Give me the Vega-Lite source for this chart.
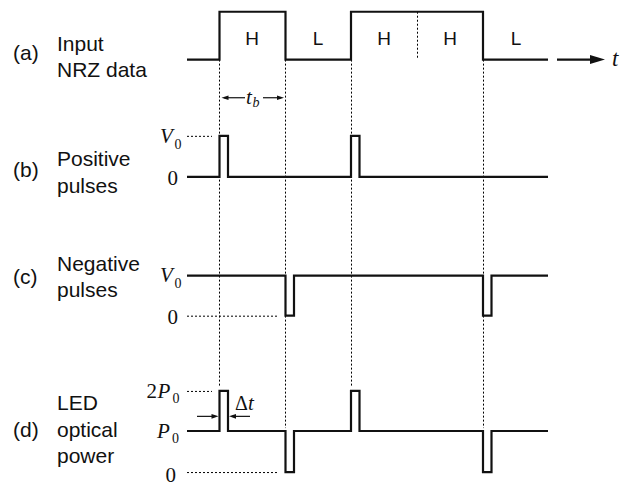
{
  "$schema": "https://vega.github.io/schema/vega-lite/v6.json",
  "width": 631,
  "height": 486,
  "padding": 0,
  "autosize": {"type": "fit", "contains": "padding"},
  "background": "white",
  "config": {"view": {"stroke": null}},
  "datasets": {
    "wave": [
      {"s": "a", "o": 1, "x": 187, "y": 61}, {"s": "a", "o": 2, "x": 219.5, "y": 61}, {"s": "a", "o": 3, "x": 219.5, "y": 12}, {"s": "a", "o": 4, "x": 285.5, "y": 12}, {"s": "a", "o": 5, "x": 285.5, "y": 61}, {"s": "a", "o": 6, "x": 351, "y": 61}, {"s": "a", "o": 7, "x": 351, "y": 12}, {"s": "a", "o": 8, "x": 483, "y": 12}, {"s": "a", "o": 9, "x": 483, "y": 61}, {"s": "a", "o": 10, "x": 548, "y": 61},
      {"s": "b", "o": 1, "x": 187, "y": 181}, {"s": "b", "o": 2, "x": 219.5, "y": 181}, {"s": "b", "o": 3, "x": 219.5, "y": 139}, {"s": "b", "o": 4, "x": 228, "y": 139}, {"s": "b", "o": 5, "x": 228, "y": 181}, {"s": "b", "o": 6, "x": 351, "y": 181}, {"s": "b", "o": 7, "x": 351, "y": 139}, {"s": "b", "o": 8, "x": 359.5, "y": 139}, {"s": "b", "o": 9, "x": 359.5, "y": 181}, {"s": "b", "o": 10, "x": 548, "y": 181},
      {"s": "c", "o": 1, "x": 187, "y": 282}, {"s": "c", "o": 2, "x": 285.5, "y": 282}, {"s": "c", "o": 3, "x": 285.5, "y": 323}, {"s": "c", "o": 4, "x": 294, "y": 323}, {"s": "c", "o": 5, "x": 294, "y": 282}, {"s": "c", "o": 6, "x": 483, "y": 282}, {"s": "c", "o": 7, "x": 483, "y": 323}, {"s": "c", "o": 8, "x": 491.5, "y": 323}, {"s": "c", "o": 9, "x": 491.5, "y": 282}, {"s": "c", "o": 10, "x": 548, "y": 282},
      {"s": "d", "o": 1, "x": 187, "y": 441}, {"s": "d", "o": 2, "x": 219.5, "y": 441}, {"s": "d", "o": 3, "x": 219.5, "y": 400}, {"s": "d", "o": 4, "x": 228, "y": 400}, {"s": "d", "o": 5, "x": 228, "y": 441}, {"s": "d", "o": 6, "x": 285.5, "y": 441}, {"s": "d", "o": 7, "x": 285.5, "y": 483}, {"s": "d", "o": 8, "x": 294, "y": 483}, {"s": "d", "o": 9, "x": 294, "y": 441}, {"s": "d", "o": 10, "x": 351, "y": 441}, {"s": "d", "o": 11, "x": 351, "y": 400}, {"s": "d", "o": 12, "x": 359.5, "y": 400}, {"s": "d", "o": 13, "x": 359.5, "y": 441}, {"s": "d", "o": 14, "x": 483, "y": 441}, {"s": "d", "o": 15, "x": 483, "y": 483}, {"s": "d", "o": 16, "x": 491.5, "y": 483}, {"s": "d", "o": 17, "x": 491.5, "y": 441}, {"s": "d", "o": 18, "x": 548, "y": 441},
      {"s": "t", "o": 1, "x": 557, "y": 61}, {"s": "t", "o": 2, "x": 598, "y": 61}
    ],
    "dashes": [
      {"x": 219.5, "y": 61, "x2": 219.5, "y2": 395},
      {"x": 285.5, "y": 61, "x2": 285.5, "y2": 438},
      {"x": 351.5, "y": 61, "x2": 351.5, "y2": 395},
      {"x": 483.5, "y": 61, "x2": 483.5, "y2": 438},
      {"x": 417.5, "y": 12, "x2": 417.5, "y2": 60},
      {"x": 187, "y": 139.5, "x2": 212, "y2": 139.5},
      {"x": 187, "y": 323.5, "x2": 278, "y2": 323.5},
      {"x": 187, "y": 400.5, "x2": 212, "y2": 400.5},
      {"x": 187, "y": 483.5, "x2": 278, "y2": 483.5}
    ],
    "thin": [
      {"x": 224, "y": 100, "x2": 245, "y2": 100},
      {"x": 263, "y": 100, "x2": 281, "y2": 100},
      {"x": 197, "y": 426, "x2": 215, "y2": 426},
      {"x": 232, "y": 426, "x2": 250, "y2": 426}
    ],
    "headsR": [{"x": 280.5, "y": 100}, {"x": 215, "y": 426}],
    "headsL": [{"x": 225, "y": 100}, {"x": 232.5, "y": 426}],
    "headBig": [{"x": 597.5, "y": 61}],
    "sans": [
      {"x": 13, "y": 61, "t": "(a)"}, {"x": 57, "y": 52, "t": "Input"}, {"x": 57, "y": 79, "t": "NRZ data"},
      {"x": 13, "y": 181, "t": "(b)"}, {"x": 57, "y": 170, "t": "Positive"}, {"x": 57, "y": 197, "t": "pulses"},
      {"x": 13, "y": 291, "t": "(c)"}, {"x": 57, "y": 277, "t": "Negative"}, {"x": 57, "y": 304, "t": "pulses"},
      {"x": 13, "y": 447, "t": "(d)"}, {"x": 57, "y": 420, "t": "LED"}, {"x": 57, "y": 447, "t": "optical"}, {"x": 57, "y": 474, "t": "power"}
    ],
    "bits": [
      {"x": 252, "y": 46, "t": "H"}, {"x": 318, "y": 46, "t": "L"}, {"x": 384, "y": 46, "t": "H"}, {"x": 450, "y": 46, "t": "H"}, {"x": 516, "y": 46, "t": "L"}
    ],
    "serifUp": [
      {"x": 178, "y": 189, "t": "0"}, {"x": 178, "y": 331, "t": "0"}, {"x": 176, "y": 493, "t": "0"}, {"x": 157, "y": 407, "t": "2"}
    ],
    "serifIt": [
      {"x": 160, "y": 146, "t": "V"}, {"x": 160, "y": 289, "t": "V"}, {"x": 157.5, "y": 407, "t": "P"}, {"x": 157, "y": 448, "t": "P"}, {"x": 246, "y": 106.5, "t": "t"}, {"x": 248, "y": 420, "t": "t"}
    ],
    "subs": [
      {"x": 174.5, "y": 152, "t": "0"}, {"x": 174.5, "y": 295, "t": "0"}, {"x": 172.5, "y": 412, "t": "0"}, {"x": 172, "y": 453, "t": "0"}
    ],
    "subIt": [{"x": 252.5, "y": 109.5, "t": "b"}],
    "delta": [{"x": 235, "y": 420, "t": "Δ"}],
    "bigT": [{"x": 612, "y": 68, "t": "t"}]
  },
  "encoding": {
    "x": {"field": "x", "type": "quantitative", "scale": {"domain": [0, 631], "nice": false, "zero": false}, "axis": null},
    "y": {"field": "y", "type": "quantitative", "scale": {"domain": [0, 486], "nice": false, "zero": false, "reverse": true}, "axis": null}
  },
  "layer": [
    {
      "data": {"name": "dashes"},
      "mark": {"type": "rule", "color": "#000000", "strokeWidth": 1, "strokeDash": [2, 2]},
      "encoding": {"x2": {"field": "x2"}, "y2": {"field": "y2"}}
    },
    {
      "data": {"name": "wave"},
      "mark": {"type": "line", "color": "#111111", "strokeWidth": 2.2, "strokeJoin": "miter", "strokeCap": "butt"},
      "encoding": {"detail": {"field": "s"}, "order": {"field": "o", "type": "quantitative"}}
    },
    {
      "data": {"name": "thin"},
      "mark": {"type": "rule", "color": "#111111", "strokeWidth": 1.2},
      "encoding": {"x2": {"field": "x2"}, "y2": {"field": "y2"}}
    },
    {
      "data": {"name": "headsR"},
      "mark": {"type": "point", "filled": true, "color": "#111111", "opacity": 1, "size": 49, "shape": "M-1,-0.65L1,0L-1,0.65Z"}
    },
    {
      "data": {"name": "headsL"},
      "mark": {"type": "point", "filled": true, "color": "#111111", "opacity": 1, "size": 49, "shape": "M1,-0.65L-1,0L1,0.65Z"}
    },
    {
      "data": {"name": "headBig"},
      "mark": {"type": "point", "filled": true, "color": "#111111", "opacity": 1, "size": 225, "shape": "M-1,-0.6L1,0L-1,0.6Z"}
    },
    {
      "data": {"name": "sans"},
      "mark": {"type": "text", "font": "Liberation Sans", "fontSize": 21, "align": "left", "baseline": "alphabetic", "color": "#111111"},
      "encoding": {"text": {"field": "t"}}
    },
    {
      "data": {"name": "bits"},
      "mark": {"type": "text", "font": "Liberation Sans", "fontSize": 19, "align": "center", "baseline": "alphabetic", "color": "#111111"},
      "encoding": {"text": {"field": "t"}}
    },
    {
      "data": {"name": "serifUp"},
      "mark": {"type": "text", "font": "Liberation Serif", "fontSize": 21, "align": "right", "baseline": "alphabetic", "color": "#111111"},
      "encoding": {"text": {"field": "t"}}
    },
    {
      "data": {"name": "serifIt"},
      "mark": {"type": "text", "font": "Liberation Serif", "fontStyle": "italic", "fontSize": 21, "align": "left", "baseline": "alphabetic", "color": "#111111"},
      "encoding": {"text": {"field": "t"}}
    },
    {
      "data": {"name": "subs"},
      "mark": {"type": "text", "font": "Liberation Serif", "fontSize": 14, "align": "left", "baseline": "alphabetic", "color": "#111111"},
      "encoding": {"text": {"field": "t"}}
    },
    {
      "data": {"name": "subIt"},
      "mark": {"type": "text", "font": "Liberation Serif", "fontStyle": "italic", "fontSize": 14, "align": "left", "baseline": "alphabetic", "color": "#111111"},
      "encoding": {"text": {"field": "t"}}
    },
    {
      "data": {"name": "delta"},
      "mark": {"type": "text", "font": "Liberation Serif", "fontSize": 20, "align": "left", "baseline": "alphabetic", "color": "#111111"},
      "encoding": {"text": {"field": "t"}}
    },
    {
      "data": {"name": "bigT"},
      "mark": {"type": "text", "font": "Liberation Serif", "fontStyle": "italic", "fontSize": 23, "align": "left", "baseline": "alphabetic", "color": "#111111"},
      "encoding": {"text": {"field": "t"}}
    }
  ]
}
